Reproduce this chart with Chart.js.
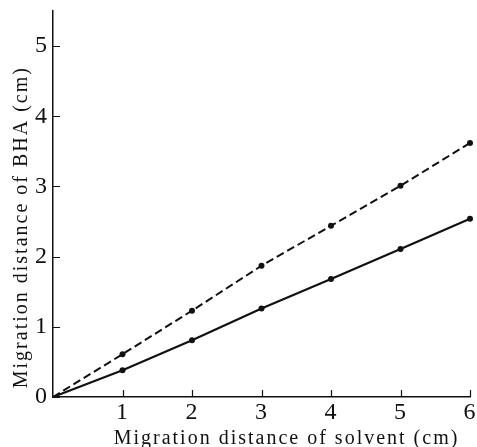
<!DOCTYPE html>
<html>
<head>
<meta charset="utf-8">
<script src="https://cdn.jsdelivr.net/npm/chart.js@4/dist/chart.umd.min.js"></script>
<style>
  html, body { margin: 0; padding: 0; background: #fff; }
  #wrap { width: 477px; height: 447px; }
</style>
</head>
<body>
<div id="wrap"><canvas id="chart"></canvas></div>
<script>
// solvent front distance (cm)
const solventDist = [0, 1, 2, 3, 4, 5, 6];
// BHA spot distance, dashed and solid curves (cm)
const bhaDashed = [0, 0.61, 1.23, 1.87, 2.44, 3.01, 3.62];
const bhaSolid = [0, 0.38, 0.81, 1.26, 1.68, 2.11, 2.54];
const xTicks = [1, 2, 3, 4, 5, 6];
const yTicks = [0, 1, 2, 3, 4, 5];
const xTitle = 'Migration distance of solvent (cm)';
const yTitle = 'Migration distance of BHA (cm)';

const ink = '#111';
const serif = '"Liberation Serif", "Times New Roman", serif';

const toPoints = ys => solventDist.map((x, i) => ({ x: x, y: ys[i] }));
// no marker at the origin
const dotRadius = solventDist.map(x => x === 0 ? 0 : 3);

// short tick marks pointing into the plot, plus the spaced-out axis titles
const axisDecor = {
    id: 'axisDecor',
    beforeDraw(chart) { chart.ctx.letterSpacing = '1px'; },
    afterDraw(chart) {
        const { ctx, chartArea: a, scales: { x, y } } = chart;
        ctx.save();
        ctx.strokeStyle = ink;
        ctx.lineWidth = 1.2;
        ctx.beginPath();
        x.ticks.forEach(t => {
            const px = Math.round(x.getPixelForValue(t.value)) + 0.5;
            ctx.moveTo(px, a.bottom);
            ctx.lineTo(px, a.bottom - 7);
        });
        y.ticks.forEach(t => {
            const py = Math.round(y.getPixelForValue(t.value)) + 0.5;
            ctx.moveTo(a.left, py);
            ctx.lineTo(a.left + 7, py);
        });
        ctx.stroke();

        ctx.fillStyle = ink;
        ctx.font = '20px ' + serif;
        ctx.letterSpacing = '2px';
        ctx.textAlign = 'center';
        ctx.textBaseline = 'alphabetic';
        ctx.fillText(xTitle, a.left + a.width * 0.56, chart.height - 3);
        ctx.translate(27, a.top + a.height * 0.56);
        ctx.rotate(-Math.PI / 2);
        ctx.fillText(yTitle, 0, 0);
        ctx.restore();
        ctx.letterSpacing = '0px';
    }
};

new Chart(document.getElementById('chart'), {
    type: 'line',
    data: {
        datasets: [
            {
                data: toPoints(bhaDashed),
                borderColor: ink,
                borderWidth: 2,
                borderDash: [8, 4],
                pointRadius: dotRadius,
                pointBackgroundColor: ink,
                pointBorderWidth: 0,
                tension: 0
            },
            {
                data: toPoints(bhaSolid),
                borderColor: ink,
                borderWidth: 2.2,
                pointRadius: dotRadius,
                pointBackgroundColor: ink,
                pointBorderWidth: 0,
                tension: 0
            }
        ]
    },
    options: {
        responsive: true,
        maintainAspectRatio: false,
        animation: false,
        clip: false,
        layout: { padding: { top: 11, right: 7, left: 0, bottom: 0 } },
        plugins: { legend: { display: false }, tooltip: { enabled: false } },
        scales: {
            x: {
                type: 'linear',
                min: 0,
                max: 6,
                afterBuildTicks: s => { s.ticks = xTicks.map(v => ({ value: v })); },
                afterFit: s => {
                    s.height = 50;
                    s.paddingLeft = 0;
                    s.paddingRight = 0;
                },
                grid: { display: false, drawTicks: false },
                border: { color: ink, width: 1.5 },
                ticks: { color: ink, padding: 1, font: { family: serif, size: 24 } }
            },
            y: {
                min: 0,
                max: 5.5,
                afterBuildTicks: s => { s.ticks = yTicks.map(v => ({ value: v })); },
                afterFit: s => {
                    s.width = 53;
                    s.paddingTop = 0;
                    s.paddingBottom = 0;
                },
                grid: { display: false, drawTicks: false },
                border: { color: ink, width: 1.5 },
                ticks: { color: ink, padding: 5, font: { family: serif, size: 24 } }
            }
        }
    },
    plugins: [axisDecor]
});
</script>
</body>
</html>
